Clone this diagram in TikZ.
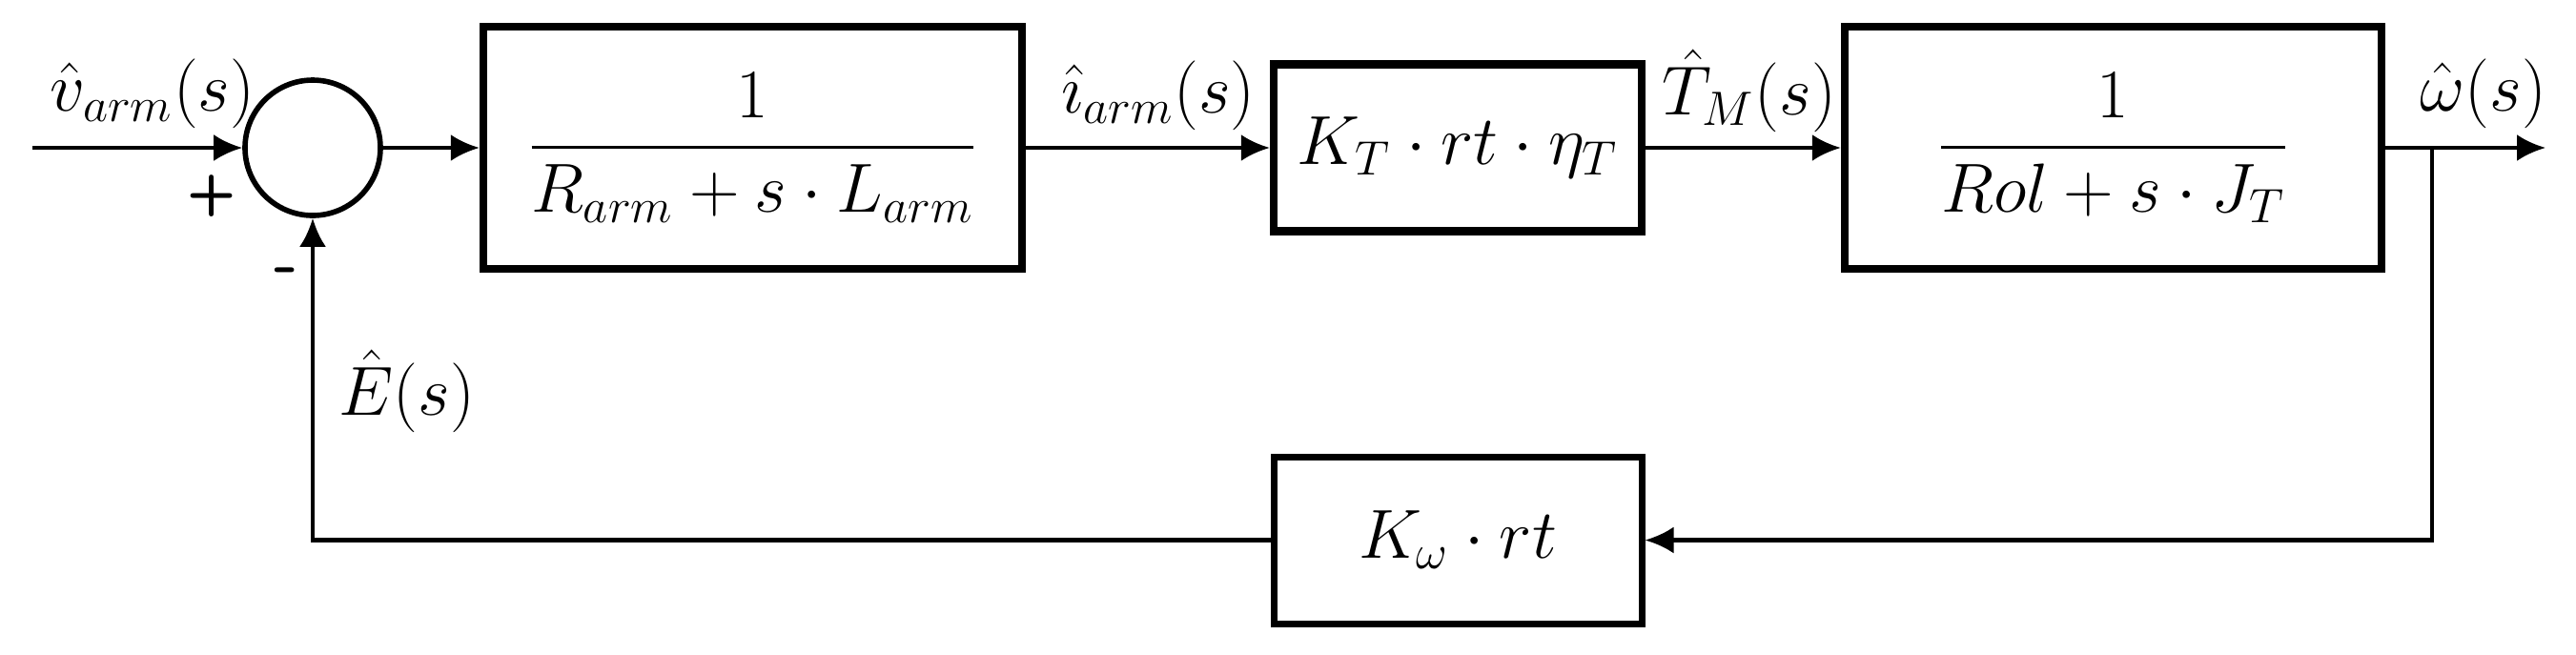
\documentclass[tikz,border=0pt]{standalone}
\usepackage{amsmath}
\usepackage{amssymb}
\usepackage{tikz}
\usetikzlibrary{positioning,arrows.meta}
\usepackage{xcolor}

\begin{document}
\begin{tikzpicture}[>={Latex[length=3mm,width=2.8mm]}, line width=1.2pt, every node/.style={font=\fontsize{22}{26}\selectfont}]
        \useasboundingbox (0,0) rectangle (27.02,-6.86);
        \tikzset{blk/.style={draw, line width=2.4pt, inner sep=0pt}, sig/.style={font=\fontsize{21}{25}\selectfont, inner sep=1pt}}
        \node[draw, circle, line width=1.6pt, minimum size=1.42cm, inner sep=0pt] (sum) at (3.28,-1.55) {};
        \node[blk, minimum width=5.65cm, minimum height=2.54cm] (elec) at (7.895,-1.55) {$\dfrac{1}{R_{arm}+s\cdot L_{arm}}$};
        \node[blk, minimum width=3.86cm, minimum height=1.75cm] (torque) at (15.29,-1.55) {$K_T\cdot rt\cdot \eta_T$};
        \node[blk, minimum width=5.63cm, minimum height=2.54cm] (mech) at (22.165,-1.55) {$\dfrac{1}{Rol+s\cdot J_T}$};
        \node[blk, line width=2pt, minimum width=3.86cm, minimum height=1.75cm] (emf) at (15.29,-5.665) {$K_\omega\cdot rt$};
        \coordinate (in) at (0.34,-1.55);
        \coordinate (out) at (26.7,-1.55);
        \coordinate (branch) at (25.51,-1.55);
        \draw[->] (in) -- (sum);
        \draw[->] (sum) -- (elec);
        \draw[->] (elec) -- (torque);
        \draw[->] (torque) -- (mech);
        \draw[->] (mech) -- (out);
        \draw[->] (branch) |- (emf);
        \draw[->] (emf) -| (sum);
        \node[sig] (vin) at (1.6,-0.98) {$\hat{v}_{arm}(s)$};
        \node[sig] (iarm) at (12.15,-1.0) {$\hat{\imath}_{arm}(s)$};
        \node[sig] (tm) at (18.35,-0.95) {$\hat{T}_M(s)$};
        \node[sig] (wout) at (26.05,-0.98) {$\hat{\omega}(s)$};
        \node[sig] (es) at (4.27,-4.1) {$\hat{E}(s)$};
        \node[font=\sffamily\bfseries\fontsize{17}{19}\selectfont] (plus) at (2.22,-2.06) {+};
        \node[font=\sffamily\bfseries\fontsize{20}{22}\selectfont] (minus) at (3.0,-2.9) {-};
    \end{tikzpicture}
\end{document}
